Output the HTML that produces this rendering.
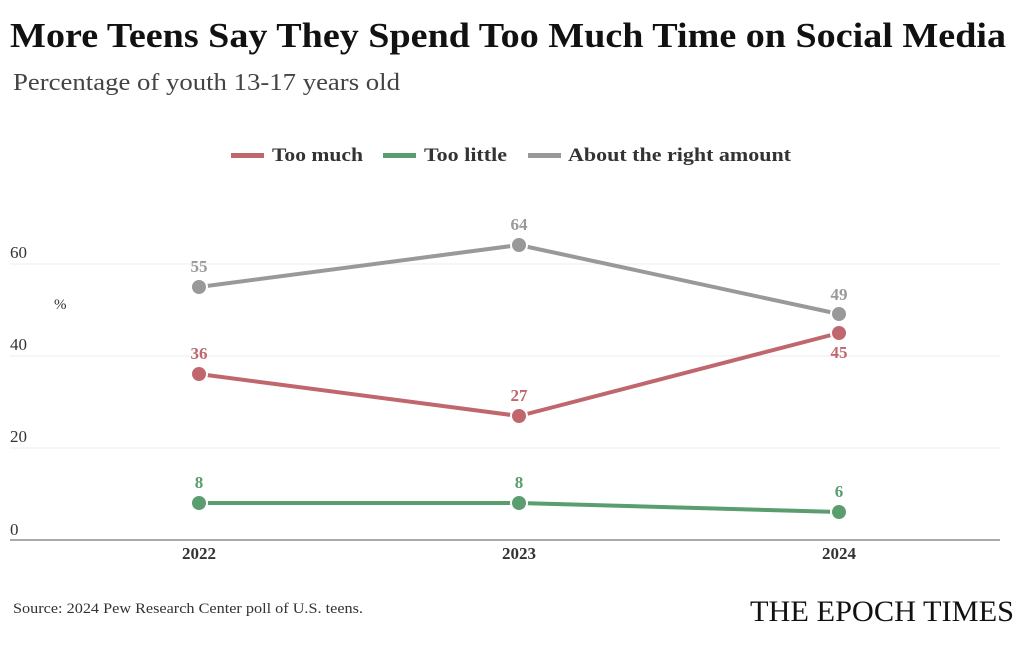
<!DOCTYPE html>
<html><head><style>
body{margin:0;width:1029px;height:643px;background:#fff;overflow:hidden;font-family:"Liberation Serif",serif;}
</style></head><body>
<svg width="1029" height="643" xmlns="http://www.w3.org/2000/svg" font-family="Liberation Serif, serif">
<text x="10" y="47" font-size="35" font-weight="bold" fill="#111" textLength="996" lengthAdjust="spacingAndGlyphs">More Teens Say They Spend Too Much Time on Social Media</text>
<text x="13" y="90" font-size="24" fill="#444" textLength="387" lengthAdjust="spacingAndGlyphs">Percentage of youth 13-17 years old</text>
<g font-size="19" font-weight="bold" fill="#333">
<rect x="231" y="153" width="33" height="5" fill="#c0676e"/>
<text x="272" y="161" textLength="91" lengthAdjust="spacingAndGlyphs">Too much</text>
<rect x="383" y="153" width="33" height="5" fill="#5a9e6f"/>
<text x="424" y="161" textLength="83" lengthAdjust="spacingAndGlyphs">Too little</text>
<rect x="528" y="153" width="33" height="5" fill="#999"/>
<text x="568" y="161" textLength="223" lengthAdjust="spacingAndGlyphs">About the right amount</text>
</g>
<g stroke="#ececec" stroke-width="1">
<line x1="10" y1="264" x2="1000" y2="264"/><line x1="10" y1="356" x2="1000" y2="356"/><line x1="10" y1="448" x2="1000" y2="448"/>
</g>
<line x1="10" y1="540" x2="1000" y2="540" stroke="#555" stroke-width="1"/>
<g font-size="17" fill="#333">
<text x="10" y="258">60</text><text x="10" y="350">40</text><text x="10" y="442">20</text><text x="10" y="535">0</text>
<text x="54" y="309" font-size="15">%</text>
</g>
<g font-size="17" font-weight="bold" fill="#333" text-anchor="middle">
<text x="199" y="559">2022</text><text x="519" y="559">2023</text><text x="839" y="559">2024</text>
</g>
<g fill="none" stroke-width="4" stroke-linejoin="round">
<polyline points="199,287 519,245 839,314" stroke="#999"/>
<polyline points="199,374 519,416 839,333" stroke="#c0676e"/>
<polyline points="199,503 519,503 839,512" stroke="#5a9e6f"/>
</g>
<g stroke="#fff" stroke-width="2">
<circle cx="199" cy="287" r="8" fill="#999"/><circle cx="519" cy="245" r="8" fill="#999"/><circle cx="839" cy="314" r="8" fill="#999"/>
<circle cx="199" cy="374" r="8" fill="#c0676e"/><circle cx="519" cy="416" r="8" fill="#c0676e"/><circle cx="839" cy="333" r="8" fill="#c0676e"/>
<circle cx="199" cy="503" r="8" fill="#5a9e6f"/><circle cx="519" cy="503" r="8" fill="#5a9e6f"/><circle cx="839" cy="512" r="8" fill="#5a9e6f"/>
</g>
<g font-size="17" font-weight="bold" text-anchor="middle">
<text x="199" y="272" fill="#999">55</text><text x="519" y="230" fill="#999">64</text><text x="839" y="300" fill="#999">49</text>
<text x="199" y="359" fill="#c0676e">36</text><text x="519" y="401" fill="#c0676e">27</text><text x="839" y="358" fill="#c0676e">45</text>
<text x="199" y="488" fill="#5a9e6f">8</text><text x="519" y="488" fill="#5a9e6f">8</text><text x="839" y="497" fill="#5a9e6f">6</text>
</g>
<text x="13" y="613" font-size="15" fill="#333" textLength="350" lengthAdjust="spacingAndGlyphs">Source: 2024 Pew Research Center poll of U.S. teens.</text>
<text x="750" y="621" font-size="30" fill="#111" textLength="264" lengthAdjust="spacingAndGlyphs">THE EPOCH TIMES</text>
</svg>
</body></html>
